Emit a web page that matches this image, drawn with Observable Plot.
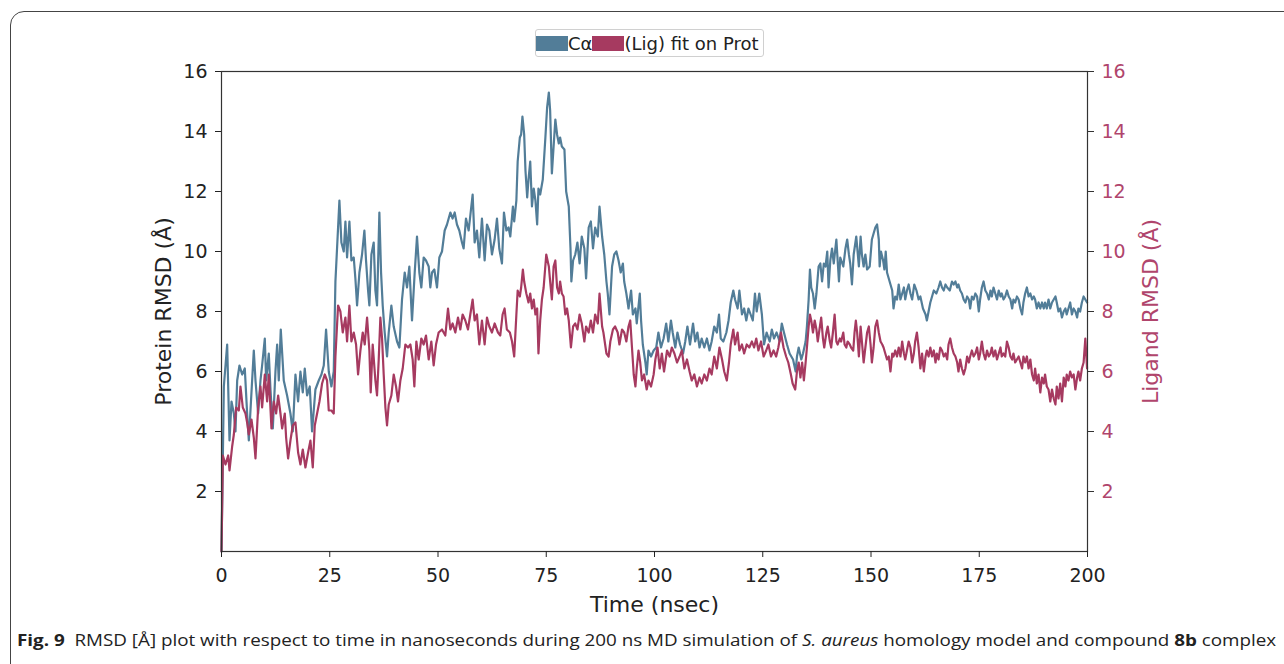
<!DOCTYPE html>
<html>
<head>
<meta charset="utf-8">
<script src="https://cdn.jsdelivr.net/npm/d3@7"></script>
<script src="https://cdn.jsdelivr.net/npm/@observablehq/plot@0.6"></script>
<style>
  html, body { margin: 0; padding: 0; background: #fff; }
  #wrap { position: relative; width: 1284px; height: 664px; overflow: hidden; font-family: "DejaVu Sans", sans-serif; }
  #border { position: absolute; left: 10px; top: 11px; width: 1400px; height: 800px; border: 1.3px solid #444; border-radius: 14px; box-sizing: border-box; }
  #chart { position: absolute; left: 0; top: 0; }
  #legend { position: absolute; left: 535px; top: 29px; height: 26px; padding: 0 4px 0 0; border: 1px solid #d0d0d0; border-radius: 3px; display: flex; align-items: center; font-size: 18px; color: #222; background: #fff; }
  .patch { display: inline-block; width: 32px; height: 15px; }
  #caption { position: absolute; left: 17px; top: 629px; font-family: "Open Sans", sans-serif; font-size: 16px; color: #222; white-space: nowrap; transform-origin: 0 0; }
</style>
</head>
<body>
<div id="wrap">
  <div id="border"></div>
  <div id="chart"></div>
  <div id="legend"><span class="patch" id="p1"></span><span>Cα</span><span class="patch" id="p2"></span><span>(Lig) fit on Prot</span></div>
  <div id="caption"><b>Fig. 9</b>&nbsp; RMSD [Å] plot with respect to time in nanoseconds during 200 ns MD simulation of <i>S. aureus</i> homology model and compound <b>8b</b> complex</div>
</div>
<script>
const proteinColor = "#527d98";
const ligandColor = "#a63a60";
const ligandAxisColor = "#b0456c";

const xTicks = [0, 25, 50, 75, 100, 125, 150, 175, 200];
const yTicks = [2, 4, 6, 8, 10, 12, 14, 16];

// Protein (Cα) RMSD, Å
const proteinTime = [0,0.54,1.31,1.85,2.31,2.85,3.23,3.62,4.15,4.77,5.38,5.92,6.31,6.92,7.46,7.85,8.46,9.0,9.38,10.0,10.31,10.92,11.31,11.85,12.46,12.85,13.23,13.69,14.38,15.15,15.92,16.46,17.08,17.69,18.23,18.77,19.23,19.77,20.38,20.92,21.69,22.46,23.08,23.62,24.15,24.77,25.38,25.92,26.31,27.23,27.69,28.23,28.62,29.0,29.54,30.0,30.54,30.92,31.31,31.85,32.46,33.0,33.38,33.85,34.15,34.62,35.15,35.54,35.92,36.46,36.85,37.23,37.69,38.23,38.62,39.23,39.77,40.54,41.08,41.69,42.31,42.85,43.38,44.0,44.62,45.15,45.69,46.15,46.69,47.23,47.85,48.23,48.62,49.15,49.77,50.31,50.92,51.54,52.08,52.85,53.38,53.85,54.38,54.92,55.54,55.92,56.46,57.08,58.0,58.46,59.0,59.54,60.15,60.77,61.31,61.85,62.46,63.08,63.62,64.15,64.77,65.23,65.8,66.3,66.7,67.3,67.6,68.1,68.4,68.9,69.2,69.5,69.9,70.2,70.6,70.9,71.3,71.7,72.1,72.5,72.9,73.2,73.6,74.2,74.8,75.2,75.6,75.9,76.3,76.7,77.1,77.5,77.9,78.2,78.6,79.2,79.6,80.2,80.6,80.8,81.2,81.7,82.2,82.7,83.2,83.8,84.2,84.8,85.3,85.8,86.3,86.9,87.3,87.9,88.4,88.9,89.2,89.6,90.2,90.7,91.2,91.7,92.2,92.7,93.0,93.5,94.0,94.6,95.0,95.6,95.9,96.6,96.9,97.3,97.9,98.2,98.6,99.2,99.8,100.4,100.9,101.5,102.1,102.7,103.2,103.8,104.2,104.8,105.3,105.9,106.6,107.1,107.6,108.2,108.9,109.4,109.9,110.4,110.9,111.5,112.1,112.7,113.2,113.8,114.4,114.9,115.3,115.9,116.6,117.1,117.6,118.2,118.6,119.2,119.6,120.2,120.7,121.2,121.7,122.2,122.7,123.2,123.6,124.2,124.8,125.3,125.9,126.6,127.1,127.6,128.2,128.9,129.4,129.9,130.6,131.2,132.0,132.6,132.9,133.3,133.9,134.3,134.9,135.2,135.6,135.9,136.2,136.6,137.0,137.4,137.9,138.3,138.7,139.1,139.5,139.9,140.2,140.6,141.0,141.4,142.0,142.6,142.9,143.6,144.1,144.5,144.9,145.2,145.6,146.0,146.6,147.2,147.6,147.9,148.3,148.7,149.1,149.7,150.2,150.6,151.0,151.4,151.8,152.0,152.3,152.8,153.1,153.4,153.7,154.1,154.5,154.9,155.2,155.6,156.0,156.4,156.8,157.2,157.6,157.9,158.3,158.7,159.1,159.5,160.0,160.5,161.0,161.4,162.0,162.6,162.9,163.3,163.7,164.1,164.5,165.1,165.6,166.0,166.4,166.8,167.2,167.6,168.2,168.7,169.1,169.5,169.9,170.2,170.6,171.0,171.4,171.8,172.2,172.6,172.9,173.3,173.7,174.1,174.5,174.9,175.2,175.6,176.0,176.4,176.8,177.2,177.6,177.9,178.3,178.7,179.1,179.5,179.9,180.2,180.6,181.0,181.4,181.8,182.2,182.6,182.9,183.3,183.7,184.1,184.5,184.9,185.2,185.6,186.0,186.4,186.8,187.2,187.6,187.9,188.3,188.7,189.1,189.5,189.9,190.2,190.6,191.0,191.4,191.8,192.2,192.6,192.9,193.3,193.7,194.1,194.5,194.9,195.2,195.6,196.0,196.4,196.8,197.2,197.6,197.9,198.3,198.7,199.1,199.5,199.9];
const proteinRMSD = [0,5.5,6.9,3.7,5.0,4.6,4.0,5.7,6.2,5.9,6.1,4.6,3.7,5.3,6.7,5.7,4.6,5.7,6.2,7.1,5.7,6.6,5.4,4.1,6.0,6.9,5.7,7.4,5.7,5.2,4.6,4.0,5.9,5.0,6.0,5.3,6.1,5.2,5.5,4.0,5.4,5.7,5.9,6.2,7.4,6.0,5.5,6.0,9.0,11.7,10.3,10.0,11.0,9.8,11.0,9.7,9.8,9.1,8.2,9.3,9.9,10.7,9.7,8.7,8.2,9.9,10.3,8.7,8.2,11.3,9.3,8.2,7.3,6.5,7.3,8.2,7.5,7.0,6.8,8.4,9.3,8.8,9.5,7.7,9.3,10.5,9.3,8.8,9.8,9.7,9.5,8.8,9.3,9.4,8.8,9.8,10.0,10.7,10.9,11.3,11.1,11.3,10.9,10.7,10.3,10.1,11.1,10.7,11.9,10.3,10.7,9.8,11.1,9.7,10.9,10.7,9.9,10.4,11.1,10.1,9.6,11.3,10.7,10.8,10.5,11.5,11.0,11.7,13.0,13.8,13.9,14.5,13.9,12.7,11.8,12.4,13.0,11.5,12.1,11.7,10.9,12.1,11.9,12.4,13.8,14.8,15.3,14.7,12.6,13.5,14.4,13.9,13.6,13.8,13.5,13.4,12.0,11.5,10.1,9.0,9.7,9.9,10.3,9.6,10.5,10.1,9.1,10.8,11.0,10.1,10.8,10.5,11.5,10.5,9.9,9.0,8.6,7.9,9.5,9.9,10.0,9.7,9.3,9.6,9.0,8.6,8.1,8.7,7.9,8.1,7.6,8.6,7.7,6.9,6.3,5.9,6.7,6.5,6.7,6.8,7.3,6.8,7.1,7.6,7.0,7.7,7.3,6.8,7.3,6.9,6.6,7.0,7.5,6.9,7.6,7.0,7.3,6.8,7.1,6.8,7.1,6.7,7.0,7.5,7.3,7.9,7.1,7.0,7.3,7.7,8.3,8.7,8.4,8.1,8.7,7.9,8.1,7.7,8.1,7.9,7.7,8.6,8.0,8.6,7.9,6.9,7.3,7.0,7.4,7.1,7.3,7.0,7.6,7.3,6.9,6.6,6.4,6.0,6.5,6.8,6.4,6.6,7.0,7.5,8.4,9.4,8.8,8.6,8.1,8.6,9.5,9.6,9.0,9.6,9.5,10.0,8.8,9.7,10.1,9.6,10.4,9.0,9.8,9.5,10.1,10.4,9.9,9.6,8.9,9.9,10.5,9.5,10.5,9.9,9.5,9.9,9.4,9.5,10.4,10.6,10.8,10.9,10.4,9.5,10.0,9.7,9.4,10.0,9.3,9.1,8.9,8.7,8.1,8.5,8.4,8.9,8.4,8.6,8.8,8.4,8.7,8.9,8.6,8.4,8.9,8.7,8.4,8.5,8.1,7.9,7.7,8.0,8.3,8.5,8.7,8.6,8.8,9.0,8.8,8.7,8.9,8.8,8.7,9.0,8.9,9.0,8.8,8.9,8.7,8.6,8.4,8.3,8.5,8.4,8.1,8.5,8.4,8.6,8.5,8.0,8.4,8.8,9.0,8.7,8.6,8.4,8.7,8.5,8.8,8.6,8.4,8.7,8.5,8.6,8.4,8.5,8.7,8.5,8.4,8.1,8.4,8.3,8.5,8.4,8.1,7.9,8.3,8.6,8.8,8.5,8.6,8.4,8.5,8.4,8.1,8.3,8.1,8.3,8.1,8.3,8.1,8.4,8.1,8.3,8.4,8.5,8.3,8.0,8.1,7.8,8.0,8.1,7.9,8.1,8.3,7.9,8.1,8.0,7.8,8.1,8.0,8.3,8.5,8.4,8.3];

// Ligand fit on protein RMSD, Å
const ligandTime = [0,0.31,0.92,1.54,1.85,2.46,2.85,3.38,4.0,4.38,4.92,5.54,5.92,6.31,6.92,7.46,7.85,8.46,9.0,9.38,10.0,10.54,10.92,11.54,12.08,12.62,13.08,13.62,14.0,14.62,14.92,15.38,15.92,16.46,17.08,17.69,18.23,18.77,19.38,20.0,20.54,21.08,21.54,22.08,22.62,23.23,23.85,24.38,24.77,25.38,25.92,26.31,26.92,27.46,28.0,28.62,29.0,29.54,30.0,30.54,31.08,31.54,32.08,32.62,33.08,33.62,34.15,34.46,34.92,35.54,35.92,36.31,36.69,37.08,37.46,37.85,38.23,38.62,39.23,39.77,40.31,40.77,41.31,41.85,42.46,43.08,43.62,44.15,44.54,45.0,45.54,46.15,46.69,47.23,47.85,48.46,49.0,49.54,50.15,50.92,51.69,52.31,52.85,53.38,54.0,54.62,55.15,55.69,56.31,56.92,57.46,58.0,58.46,59.0,59.54,60.15,60.77,61.31,61.85,62.46,63.08,63.85,64.38,64.92,65.38,65.9,66.6,67.1,67.6,68.1,68.4,68.9,69.2,69.6,69.9,70.4,70.9,71.3,71.7,72.1,72.5,72.9,73.2,73.6,74.0,74.4,75.0,75.6,75.9,76.3,76.7,77.1,77.5,77.9,78.2,78.6,79.0,79.4,79.8,80.2,80.7,81.2,81.7,82.2,82.7,83.2,83.8,84.2,84.8,85.3,85.8,86.3,86.9,87.3,87.9,88.2,88.9,89.4,89.8,90.4,90.9,91.5,91.9,92.5,93.0,93.5,94.0,94.4,94.8,95.2,95.6,95.9,96.3,96.7,97.1,97.6,98.2,98.6,99.2,99.8,100.2,100.7,101.2,101.7,102.2,102.9,103.5,104.0,104.6,105.2,105.8,106.3,106.9,107.5,108.1,108.6,109.2,109.8,110.4,110.9,111.5,112.1,112.7,113.2,113.8,114.4,115.0,115.6,116.1,116.7,117.2,117.6,118.2,118.6,119.2,119.6,120.2,120.7,121.3,121.9,122.5,123.0,123.5,124.0,124.6,125.2,125.8,126.3,126.9,127.5,128.1,128.6,129.2,129.8,130.4,130.9,131.5,131.9,132.5,132.9,133.3,133.7,134.1,134.5,134.9,135.2,135.6,135.9,136.2,136.6,137.0,137.4,137.7,138.2,138.5,138.9,139.2,139.7,140.0,140.5,140.8,141.2,141.6,142.0,142.3,142.8,143.1,143.6,143.9,144.3,144.6,145.1,145.4,145.9,146.2,146.5,146.8,147.2,147.6,147.9,148.3,148.7,149.1,149.5,149.9,150.2,150.6,151.0,151.4,151.8,152.2,152.6,152.9,153.3,153.7,154.1,154.5,154.9,155.2,155.6,156.0,156.4,156.8,157.2,157.6,157.9,158.3,158.7,159.1,159.5,159.9,160.2,160.6,161.0,161.4,161.8,162.2,162.6,162.9,163.3,163.7,164.1,164.5,164.9,165.2,165.6,166.0,166.4,166.8,167.2,167.6,167.9,168.3,168.7,169.1,169.5,169.9,170.2,170.6,171.0,171.4,171.8,172.2,172.6,172.9,173.3,173.7,174.1,174.5,174.9,175.2,175.6,176.0,176.4,176.8,177.2,177.6,177.9,178.3,178.7,179.1,179.5,179.9,180.2,180.6,181.0,181.4,181.8,182.2,182.6,182.9,183.3,183.7,184.1,184.5,184.9,185.2,185.6,186.0,186.4,186.8,187.2,187.6,187.9,188.3,188.7,189.1,189.5,189.9,190.2,190.6,191.0,191.4,191.8,192.2,192.6,192.9,193.3,193.7,194.1,194.5,194.9,195.2,195.6,196.0,196.4,196.8,197.2,197.6,197.9,198.3,198.7,199.1,199.5,199.9];
const ligandRMSD = [0,3.2,2.9,3.2,2.7,3.5,3.9,4.8,4.7,5.5,4.8,4.6,4.3,3.9,4.4,3.8,3.1,4.8,5.5,4.8,5.9,5.0,5.9,4.1,5.0,4.6,5.2,4.6,4.1,4.6,3.8,3.1,3.7,4.2,4.3,3.3,2.9,3.4,2.8,3.3,3.7,2.8,4.2,4.6,5.0,5.6,5.9,5.7,4.7,4.7,4.6,6.5,8.2,8.0,7.3,7.8,7.0,8.2,7.0,7.3,6.9,5.9,6.7,7.3,6.9,7.8,6.7,5.3,6.9,5.7,5.2,6.4,7.8,7.1,5.9,4.8,4.2,4.9,5.2,5.9,5.5,5.0,5.7,6.1,6.9,6.8,6.9,6.4,5.5,7.0,6.4,7.1,6.9,7.2,6.4,7.0,6.2,6.9,7.3,7.4,7.2,8.1,7.4,7.6,7.3,7.8,7.4,7.9,7.7,7.4,7.9,8.4,7.7,7.9,6.9,7.7,6.9,7.8,7.5,7.3,7.6,7.3,7.2,7.9,8.1,7.4,7.3,7.0,6.5,7.9,8.7,8.5,8.8,9.4,9.0,8.6,8.3,8.6,8.1,8.4,7.9,8.1,6.6,7.7,8.4,8.8,9.9,9.5,9.0,8.4,9.5,9.7,8.8,8.6,9.0,8.6,8.5,7.9,8.1,7.7,6.8,7.5,7.6,7.4,7.9,7.6,7.0,7.5,7.3,7.7,7.3,7.9,7.6,8.6,7.5,7.3,6.6,6.5,7.0,7.4,7.5,7.3,6.9,7.4,7.3,7.0,7.5,7.7,6.8,5.9,5.5,6.1,6.7,6.3,5.7,5.9,5.4,5.7,5.5,5.9,6.4,6.8,6.1,6.6,6.0,6.7,6.5,6.8,6.6,6.3,6.5,6.7,6.1,6.4,6.0,5.7,5.9,5.5,5.8,5.6,5.9,5.7,6.1,5.9,6.5,6.1,6.8,6.4,6.0,5.7,6.3,6.9,7.4,6.9,7.3,6.7,6.9,6.6,6.9,6.8,7.0,6.8,7.1,6.7,7.0,6.5,6.7,6.9,6.5,6.7,6.5,6.8,7.3,6.8,6.5,6.3,5.9,5.6,5.4,6.0,6.3,5.8,6.3,5.7,6.3,6.8,7.5,7.9,7.7,7.3,7.7,7.4,7.0,7.5,7.8,7.1,6.8,7.3,7.5,7.0,6.8,7.3,7.9,7.0,6.9,7.1,7.0,7.3,6.9,6.8,7.0,6.9,6.8,6.7,7.3,7.7,7.3,6.5,7.5,7.0,6.3,6.8,7.3,7.5,6.9,6.3,6.8,7.5,7.7,7.3,7.0,6.9,6.8,6.6,6.4,6.5,6.0,6.6,6.5,6.7,6.5,6.8,6.5,7.0,6.6,6.4,6.7,7.0,6.8,6.3,6.6,7.0,7.3,6.8,6.1,6.6,6.0,6.5,6.7,6.5,6.8,6.5,6.7,6.3,6.6,6.4,6.8,6.7,6.5,6.6,6.4,6.9,7.1,6.8,6.6,6.5,6.3,6.0,6.4,6.1,5.9,6.1,6.5,6.3,6.5,6.7,6.5,6.6,6.8,6.4,6.6,7.0,6.6,6.4,6.7,6.5,6.6,6.8,6.5,6.7,6.4,6.6,6.8,6.5,6.6,6.5,7.0,6.8,6.5,6.4,6.6,6.3,6.4,6.5,6.3,6.1,6.5,6.3,6.5,6.1,6.4,5.9,5.7,6.1,5.6,5.9,5.3,5.8,5.6,5.9,5.5,5.4,5.0,5.4,5.1,4.9,5.5,5.1,5.6,5.0,5.8,5.5,5.9,5.7,6.0,5.8,5.9,5.4,5.8,6.0,5.7,6.1,6.3,7.1,6.1];

const protein = proteinTime.map((t, i) => ({t, v: proteinRMSD[i]}));
const ligand = ligandTime.map((t, i) => ({t, v: ligandRMSD[i]}));

document.getElementById("p1").style.background = proteinColor;
document.getElementById("p2").style.background = ligandColor;

const chart = Plot.plot({
  width: 1284,
  height: 664,
  marginLeft: 221,
  marginRight: 197,
  marginTop: 71,
  marginBottom: 113,
  style: {fontFamily: "DejaVu Sans, sans-serif", fontSize: "19px", color: "#222", background: "transparent", overflow: "visible"},
  x: {domain: [0, 200]},
  y: {domain: [0, 16]},
  marks: [
    Plot.line(protein, {x: "t", y: "v", stroke: proteinColor, strokeWidth: 2.2, strokeLinejoin: "round"}),
    Plot.line(ligand, {x: "t", y: "v", stroke: ligandColor, strokeWidth: 2.2, strokeLinejoin: "round"}),
    Plot.frame({stroke: "#333", strokeWidth: 1.2}),
    Plot.axisX({ticks: xTicks, tickSize: 6, tickPadding: 11, label: null, color: "#222"}),
    Plot.axisY({ticks: yTicks, tickSize: 6, tickPadding: 8, label: null, color: "#222"}),
    Plot.axisY({anchor: "right", ticks: yTicks, tickSize: 6, tickFormat: () => "", label: null, color: "#333"}),
    Plot.axisY({anchor: "right", ticks: yTicks, tickSize: 0, tickPadding: 14, label: null, color: ligandAxisColor}),
    Plot.text(["Protein RMSD (Å)"], {frameAnchor: "left", dx: -58, rotate: -90, textAnchor: "middle", fontSize: 22, fill: "#222"}),
    Plot.text(["Ligand RMSD (Å)"], {frameAnchor: "right", dx: 63, rotate: -90, textAnchor: "middle", fontSize: 22, fill: ligandAxisColor}),
    Plot.text(["Time (nsec)"], {frameAnchor: "bottom", dy: 60, textAnchor: "middle", fontSize: 22, fill: "#222"})
  ]
});
document.getElementById("chart").appendChild(chart);

const cap = document.getElementById("caption");
const capW = cap.scrollWidth;
cap.style.transform = `scaleX(${1259 / capW})`;
</script>
</body>
</html>
